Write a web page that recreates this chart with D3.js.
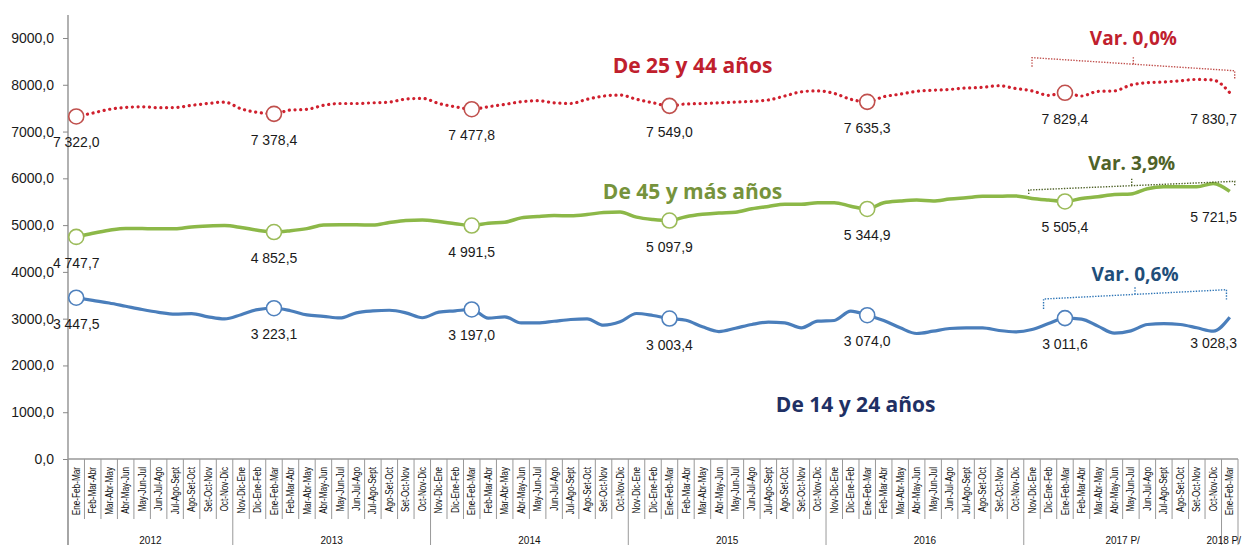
<!DOCTYPE html>
<html lang="es">

<head>
  <meta charset="UTF-8">
  <title>Población por grupos de edad</title>
  <style>
    body { margin: 0; background: #fff; }
    svg { display: block; }
  </style>
</head>

<body>
  <script src="https://cdn.jsdelivr.net/npm/d3@7/dist/d3.min.js"></script>
  <script>
    // categorías (trimestres móviles) y años
    let yearLabels = ['2012', '2013', '2014', '2015', '2016', '2017 P/', '2018 P/']
    let yearCounts = [10, 12, 12, 12, 12, 12, 1]
    let yearStart = [0, 10, 10, 10, 10, 10, 0]  // primer trimestre de cada año
    let trimestres = ['Ene-Feb-Mar', 'Feb-Mar-Abr', 'Mar-Abr-May', 'Abr-May-Jun', 'May-Jun-Jul', 'Jun-Jul-Ago',
      'Jul-Ago-Sept', 'Ago-Set-Oct', 'Set-Oct-Nov', 'Oct-Nov-Dic', 'Nov-Dic-Ene', 'Dic-Ene-Feb']
    let categories = []
    yearCounts.forEach((n, k) => {
      for (let j = 0; j < n; j++) categories.push(trimestres[(yearStart[k] + j) % 12])
    })

    let yTicks = [0, 1000, 2000, 3000, 4000, 5000, 6000, 7000, 8000, 9000]

    // De 25 y 44 años
    let adultos = [7322.0, 7395, 7475, 7515, 7530, 7510, 7515, 7560, 7600, 7630,
      7487, 7410, 7378.4, 7460, 7475, 7560, 7600, 7600, 7615, 7630, 7695, 7710,
      7600, 7530, 7477.8, 7530, 7580, 7637, 7660, 7615, 7600, 7690, 7758, 7780,
      7690, 7615, 7549.0, 7590, 7600, 7615, 7630, 7645, 7675, 7760, 7850, 7870,
      7815, 7690, 7635.3, 7745, 7800, 7860, 7885, 7900, 7930, 7945, 7980, 7920,
      7870, 7775, 7829.4, 7760, 7860, 7870, 7995, 8045, 8060, 8085, 8115, 8100,
      7830.7]
    // De 45 y más años
    let mayores = [4747.7, 4825, 4890, 4930, 4925, 4920, 4920, 4960, 4980, 4990,
      4950, 4890, 4852.5, 4880, 4925, 5000, 5010, 5010, 5000, 5055, 5100, 5110,
      5075, 5030, 4991.5, 5040, 5060, 5155, 5185, 5205, 5200, 5225, 5270, 5280,
      5170, 5120, 5097.9, 5180, 5230, 5260, 5275, 5350, 5400, 5445, 5445, 5480,
      5480, 5405, 5344.9, 5478, 5515, 5535, 5515, 5557, 5585, 5615, 5615, 5625,
      5570, 5535, 5505.4, 5570, 5605, 5655, 5665, 5777, 5820, 5820, 5820, 5890,
      5721.5]
    // De 14 y 24 años
    let jovenes = [3447.5, 3390, 3335, 3265, 3195, 3135, 3095, 3108, 3040, 2995,
      3085, 3195, 3223.1, 3170, 3080, 3050, 3015, 3125, 3165, 3180, 3125, 3020,
      3140, 3168, 3197.0, 3010, 3040, 2910, 2910, 2945, 2982, 2995, 2860, 2932,
      3110, 3067, 3003.4, 2967, 2825, 2725, 2796, 2875, 2925, 2910, 2804, 2946,
      2961, 3160, 3074.0, 2960, 2805, 2683, 2732, 2790, 2805, 2805, 2747, 2718,
      2768, 2896, 3011.6, 2990, 2840, 2690, 2740, 2875, 2896, 2875, 2805, 2732,
      3028.3]

    let marcados = [0, 12, 24, 36, 48, 60]  // puntos con círculo
    let ultimo = 70

    let width = 1242
    let height = 545

    let svg = d3.select('body').append('svg')
      .attr('width', width)
      .attr('height', height)

    let x = d3.scaleBand().domain(d3.range(categories.length)).range([68, 1238])
    let cx = i => x(0) + x.bandwidth() * (i + 0.5)
    let y = d3.scaleLinear().domain([0, 9000]).range([459, 38])

    let fmt = d3.formatLocale({ decimal: ',', thousands: ' ', grouping: [3], currency: ['', ''] }).format(',.1f')

    // eje Y
    let yAxis = svg.append('g')
      .attr('transform', 'translate(68,0)')
      .call(d3.axisLeft(y).tickValues(yTicks).tickSize(5).tickPadding(9)
        .tickFormat(d => d3.format('.1f')(d).replace('.', ',')))
    yAxis.select('.domain').remove()
    yAxis.selectAll('line').attr('stroke', '#888')
    yAxis.selectAll('text').attr('font-family', 'Liberation Sans, Arial, sans-serif')
      .attr('font-size', 14).attr('fill', '#1a1a1a')
    svg.append('line').attr('x1', 68).attr('x2', 68).attr('y1', 15).attr('y2', height)
      .attr('stroke', '#888').attr('stroke-width', 1.3)

    // eje X
    svg.append('line').attr('x1', 68).attr('x2', 1238).attr('y1', y(0)).attr('y2', y(0))
      .attr('stroke', '#999').attr('stroke-width', 1.3)
    let cortes = [0]
    yearCounts.forEach(n => cortes.push(cortes[cortes.length - 1] + n))
    svg.append('g').selectAll('line')
      .data(d3.range(categories.length + 1))
      .enter().append('line')
      .attr('x1', i => x(0) + x.bandwidth() * i)
      .attr('x2', i => x(0) + x.bandwidth() * i)
      .attr('y1', y(0))
      .attr('y2', i => cortes.includes(i) ? height : 519)
      .attr('stroke', '#999')
      .attr('stroke-width', 1)

    svg.append('g').selectAll('text')
      .data(categories)
      .enter().append('text')
      .attr('transform', (d, i) => `translate(${cx(i) + 3.6},467) rotate(-90) scale(0.82,1)`)
      .attr('text-anchor', 'end')
      .attr('font-family', 'Liberation Sans, Arial, sans-serif')
      .attr('font-size', 10)
      .attr('fill', '#111')
      .text(d => d)

    let last = yearLabels.length - 1
    svg.append('g').selectAll('text')
      .data(yearLabels)
      .enter().append('text')
      .attr('x', (d, k) => k === last ? 1241 : (cx(cortes[k]) + cx(cortes[k + 1] - 1)) / 2)
      .attr('y', 544)
      .attr('text-anchor', (d, k) => k === last ? 'end' : 'middle')
      .attr('font-family', 'Liberation Sans, Arial, sans-serif')
      .attr('font-size', 10)
      .attr('fill', '#111')
      .text(d => d)

    // series
    let series = [
      { values: adultos, line: '#d0202e', ring: '#c0504d', width: 3.2, dash: '0.1 5.6' },
      { values: mayores, line: '#8cb848', ring: '#9bbb59', width: 3.5, dash: null },
      { values: jovenes, line: '#4a7ebb', ring: '#4f81bd', width: 3.2, dash: null }
    ]

    let line = d3.line().x((d, i) => cx(i)).y(d => y(d)).curve(d3.curveMonotoneX)

    series.forEach(s => {
      svg.append('path')
        .attr('d', line(s.values))
        .attr('fill', 'none')
        .attr('stroke', s.line)
        .attr('stroke-width', s.width)
        .attr('stroke-linecap', s.dash ? 'round' : 'butt')
        .attr('stroke-linejoin', 'round')
        .attr('stroke-dasharray', s.dash)

      svg.append('g').selectAll('circle')
        .data(marcados)
        .enter().append('circle')
        .attr('cx', i => cx(i))
        .attr('cy', i => y(s.values[i]))
        .attr('r', 7.5)
        .attr('fill', '#fff')
        .attr('stroke', s.ring)
        .attr('stroke-width', 1.6)

      svg.append('g').selectAll('text')
        .data(marcados.concat([ultimo]))
        .enter().append('text')
        .attr('x', i => i === ultimo ? 1237 : cx(i))
        .attr('y', i => y(s.values[i]) + 31)
        .attr('text-anchor', i => i === ultimo ? 'end' : 'middle')
        .attr('font-family', 'Liberation Sans, Arial, sans-serif')
        .attr('font-size', 14)
        .attr('fill', '#1a1a1a')
        .text(i => fmt(s.values[i]))
    })

    // títulos de las series
    let titulos = [
      { text: 'De 25 y 44 años', i: 37.4, v: 8260, color: '#c0202d' },
      { text: 'De 45 y más años', i: 37.4, v: 5550, color: '#76933c' },
      { text: 'De 14 y 24 años', i: 47.3, v: 1000, color: '#1f3064' }
    ]
    svg.append('g').selectAll('text')
      .data(titulos)
      .enter().append('text')
      .attr('x', d => cx(d.i))
      .attr('y', d => y(d.v))
      .attr('text-anchor', 'middle')
      .attr('font-family', 'Open Sans, sans-serif')
      .attr('font-weight', 'bold')
      .attr('font-size', 21)
      .attr('fill', d => d.color)
      .text(d => d.text)

    // variaciones con llaves punteadas
    let variaciones = [
      { text: 'Var. 0,0%', color: '#c0202d', stroke: '#c0504d', i0: 58, i1: 70.3, v0: 8580, v1: 8300, drop: 9, tv: 8850 },
      { text: 'Var. 3,9%', color: '#4f6228', stroke: '#4f6228', i0: 57.8, i1: 70.3, v0: 5750, v1: 5936, drop: 4, tv: 6180 },
      { text: 'Var. 0,6%', color: '#1f4e79', stroke: '#2e75b6', i0: 58.7, i1: 69.8, v0: 3420, v1: 3619, drop: 10, tv: 3800 }
    ]
    variaciones.forEach(d => {
      let xa = cx(d.i0), xb = cx(d.i1), ya = y(d.v0), yb = y(d.v1)
      let xm = (xa + xb) / 2, ym = (ya + yb) / 2
      let p = d3.path()
      p.moveTo(xa, ya + d.drop); p.lineTo(xa, ya); p.lineTo(xb, yb); p.lineTo(xb, yb + d.drop)
      p.moveTo(xm, ym); p.lineTo(xm, ym - 7)
      svg.append('path').attr('d', p.toString())
        .attr('fill', 'none').attr('stroke', d.stroke).attr('stroke-width', 1.4)
        .attr('stroke-dasharray', '1.4 1.4')
      svg.append('text')
        .attr('x', xm).attr('y', y(d.tv))
        .attr('text-anchor', 'middle')
        .attr('font-family', 'Open Sans, sans-serif')
        .attr('font-weight', 'bold')
        .attr('font-size', 19)
        .attr('fill', d.color)
        .text(d.text)
    })
  </script>
</body>

</html>
